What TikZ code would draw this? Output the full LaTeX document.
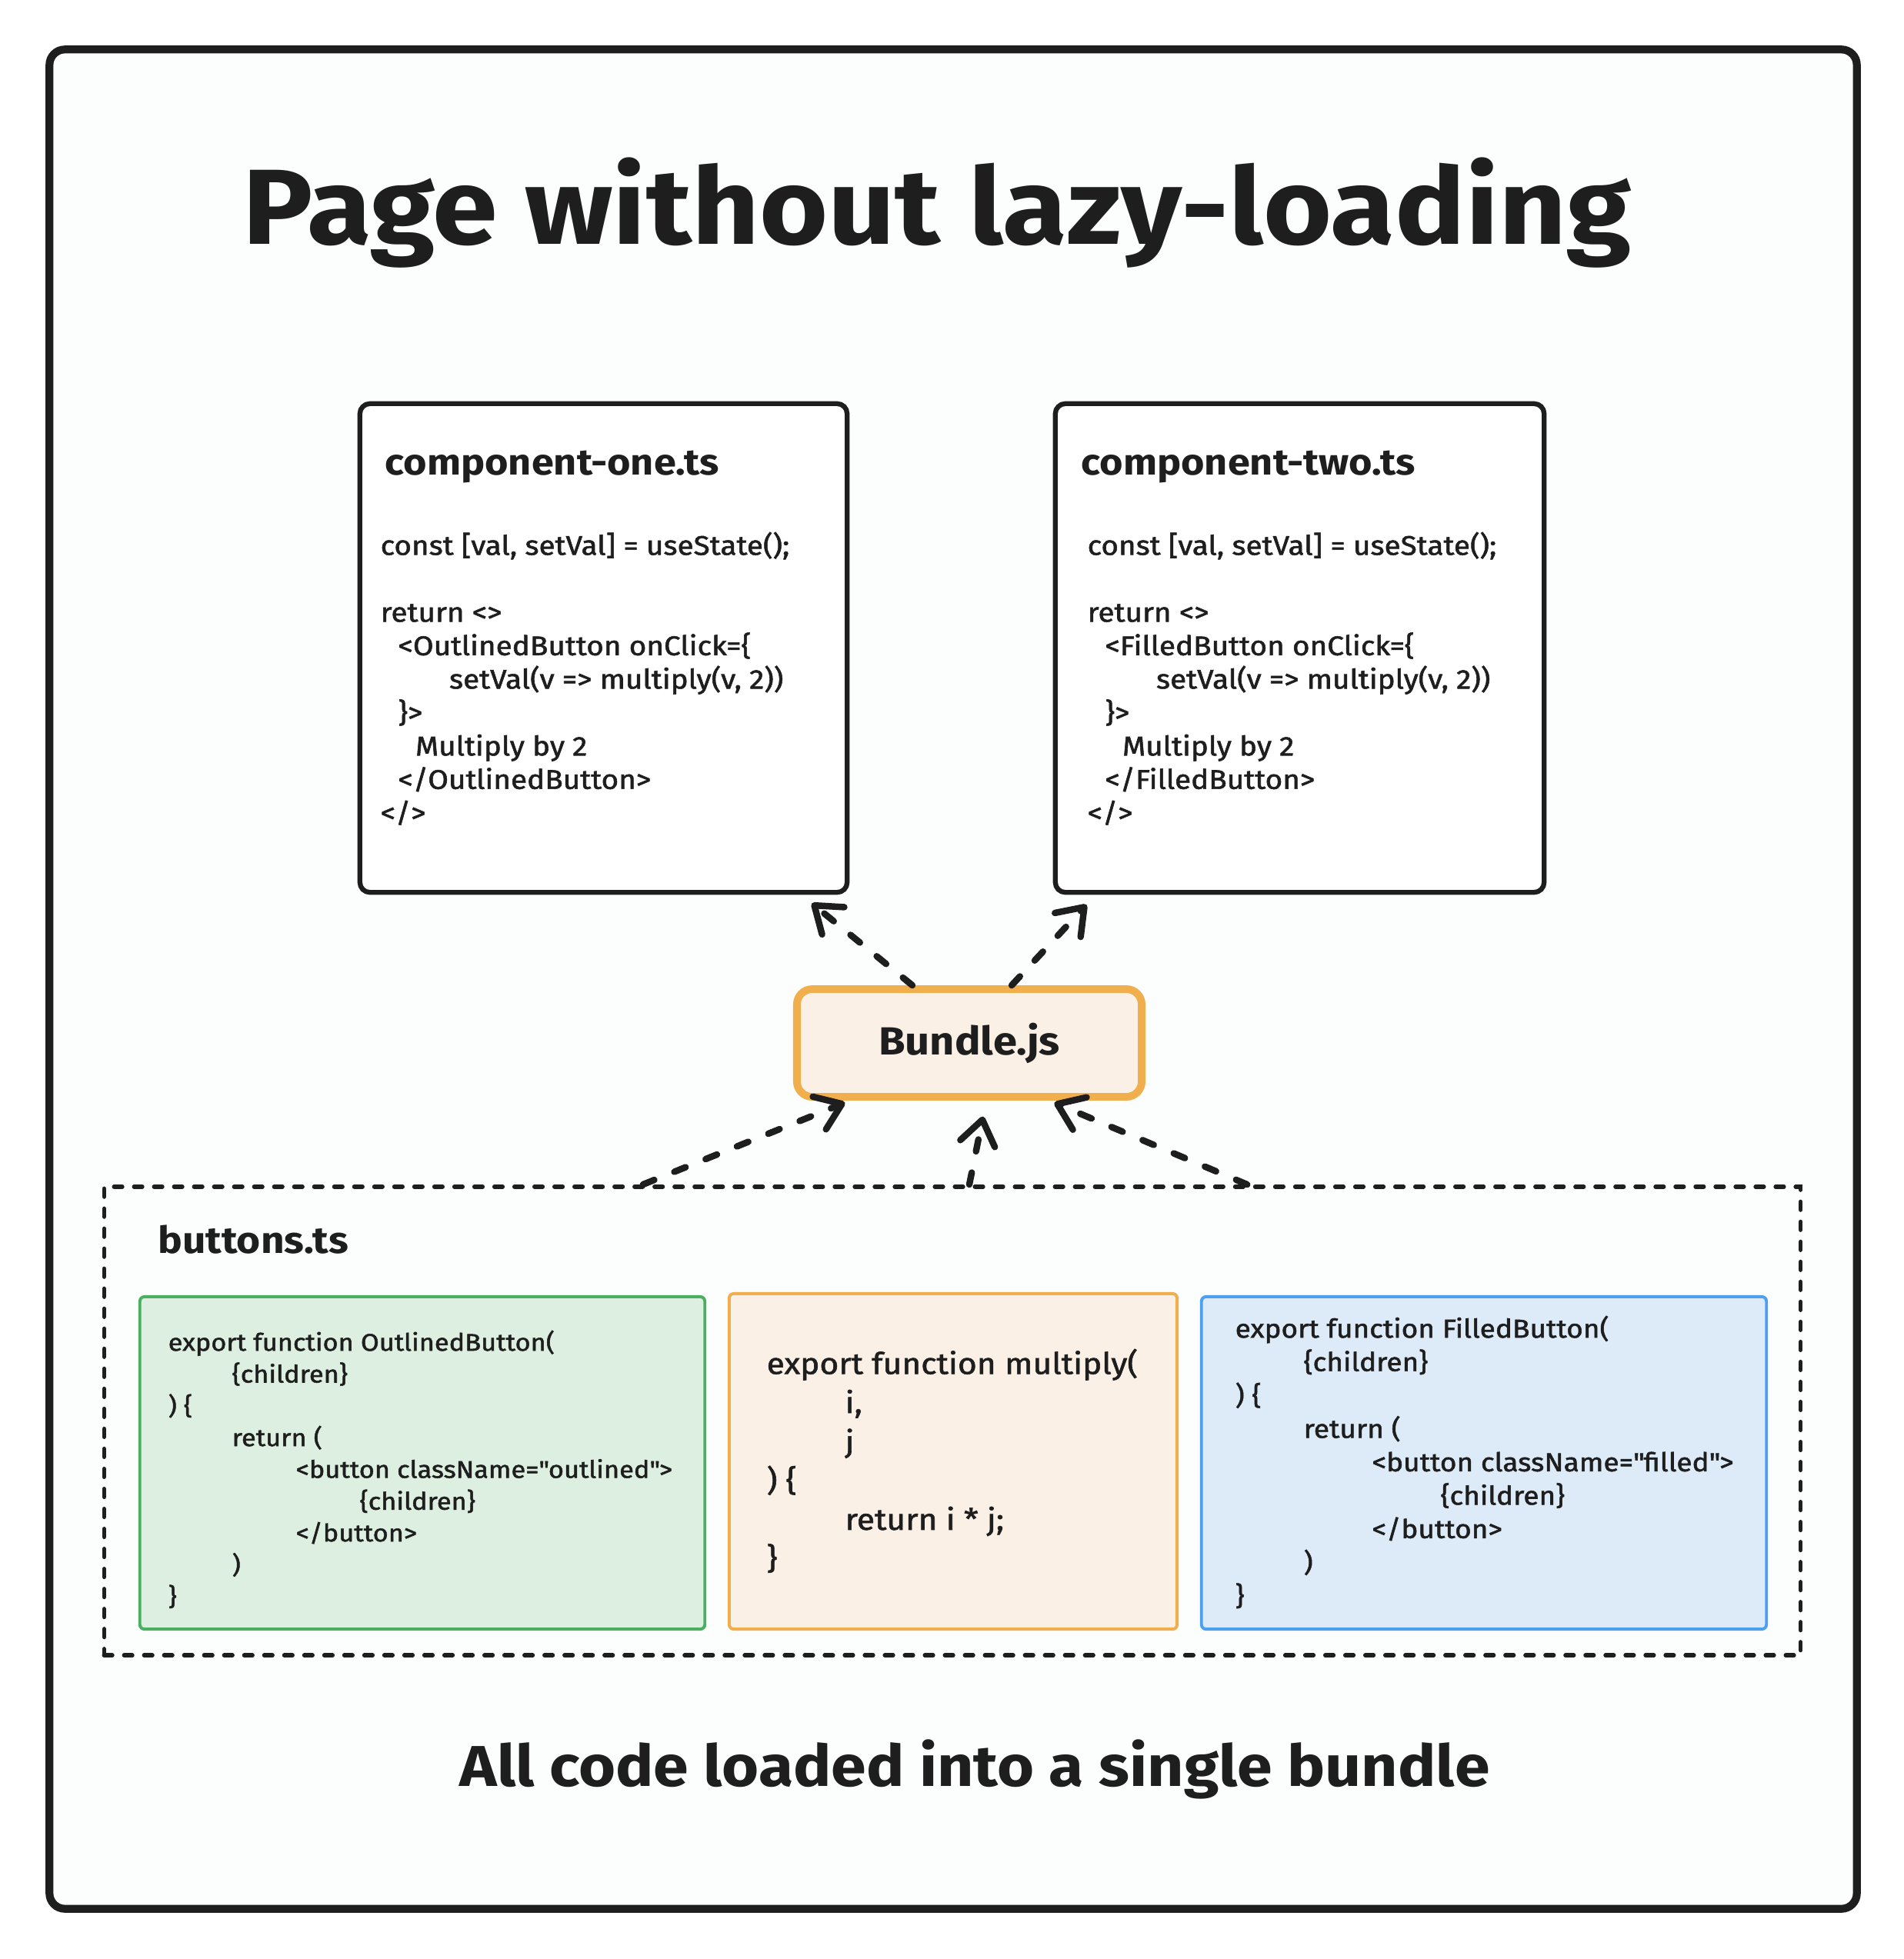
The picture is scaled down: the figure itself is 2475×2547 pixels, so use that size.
\documentclass[tikz,border=0pt]{standalone}
\usepackage{fontspec}
\setmainfont{Fira Sans}[FakeStretch=1.1]
\newfontfamily\codefont{Fira Sans}[FakeStretch=1.1, FakeBold=1.6]
\usetikzlibrary{arrows.meta}

\definecolor{ink}{HTML}{1E1E1E}
\definecolor{paper}{HTML}{FCFDFD}
\definecolor{bundleline}{HTML}{F0AE4C}
\definecolor{bundlefill}{HTML}{FAF0E6}
\definecolor{greenline}{HTML}{4CAF60}
\definecolor{greenfill}{HTML}{DDEFE0}
\definecolor{blueline}{HTML}{4DA0F0}
\definecolor{bluefill}{HTML}{DDEBF9}

\newcommand{\indentby}[1]{\hspace*{#1}}
\newcommand{\dq}{\textquotedbl}

\begin{document}
\begin{tikzpicture}[
    x=0.01cm, y=-0.01cm,
    frame/.style={draw=ink, fill=paper, line width=2.9pt, rounded corners=0.2cm},
    filebox/.style={draw=ink, fill=white, line width=1.8pt, rounded corners=0.13cm},
    bundlebox/.style={draw=bundleline, fill=bundlefill, line width=2.8pt, rounded corners=0.2cm,
        text=ink, font=\fontsize{14.5}{17}\selectfont\bfseries},
    groupbox/.style={draw=ink, line width=1.6pt, line cap=round, dash pattern=on 3pt off 4.4pt},
    codebox/.style={line width=1.1pt, rounded corners=0.06cm},
    heading/.style={anchor=base west, inner sep=0, text=ink, font=\fontsize{13.5}{16}\selectfont\bfseries},
    code/.style={anchor=north west, inner sep=0, align=left, text=ink},
    link/.style={draw=ink, line width=2.4pt, line cap=round, dash pattern=on 4.5pt off 8pt,
        -{Straight Barb[length=9pt, width=13pt, round]}}
]
    \fill[white] (0,0) rectangle (2475,2547);
    \useasboundingbox (0,0) rectangle (2475,2547);

    % Draw boxes
    \node[frame, minimum width=23.48cm, minimum height=24.16cm] (frame) at (1239,1273) {};
    \node[filebox, minimum width=6.33cm, minimum height=6.35cm] (one) at (784.5,842.5) {};
    \node[filebox, minimum width=6.35cm, minimum height=6.35cm] (two) at (1689.5,842.5) {};
    \node[bundlebox, minimum width=4.48cm, minimum height=1.40cm] (bundle) at (1260,1356) {Bundle.js};
    \node[groupbox, minimum width=22.04cm, minimum height=6.09cm] (buttons) at (1238,1847.5) {};
    \node[codebox, draw=greenline, fill=greenfill, minimum width=7.34cm, minimum height=4.32cm] (outlined) at (549,1902) {};
    \node[codebox, draw=bundleline, fill=bundlefill, minimum width=5.82cm, minimum height=4.36cm] (multiply) at (1239,1900) {};
    \node[codebox, draw=blueline, fill=bluefill, minimum width=7.34cm, minimum height=4.32cm] (filled) at (1929,1902) {};

    % Draw texts
    \node[anchor=base, inner sep=0, text=ink, font=\fontsize{39.5}{46}\selectfont\bfseries] (title) at (1218,317) {Page without lazy-loading};
    \node[anchor=base, inner sep=0, text=ink, font=\fontsize{21.3}{25}\selectfont\bfseries] (caption) at (1267,2322) {All code loaded into a single bundle};
    \node[heading] (onetitle) at (500,617) {component-one.ts};
    \node[heading] (twotitle) at (1405,617) {component-two.ts};
    \node[heading, font=\fontsize{13.75}{16}\selectfont\bfseries] (buttonstitle) at (205,1629) {buttons.ts};

    \node[code, font=\codefont\fontsize{10}{12.36}\selectfont] (onecode) at (494,691) {%
        const [val, setVal] = useState();\\
        \\
        return <>\\
        \indentby{6.5pt}<OutlinedButton onClick=\{\\
        \indentby{25.4pt}setVal(v => multiply(v, 2))\\
        \indentby{6.5pt}\}>\\
        \indentby{12.9pt}Multiply by 2\\
        \indentby{6.5pt}</OutlinedButton>\\
        </>};
    \node[code, font=\codefont\fontsize{10}{12.36}\selectfont] (twocode) at (1413,691) {%
        const [val, setVal] = useState();\\
        \\
        return <>\\
        \indentby{6.5pt}<FilledButton onClick=\{\\
        \indentby{25.4pt}setVal(v => multiply(v, 2))\\
        \indentby{6.5pt}\}>\\
        \indentby{12.9pt}Multiply by 2\\
        \indentby{6.5pt}</FilledButton>\\
        </>};

    \node[code, font=\codefont\fontsize{8.9}{11.75}\selectfont] (outlinedcode) at (218,1729) {%
        export function OutlinedButton(\\
        \indentby{23.6pt}\{children\}\\
        ) \{\\
        \indentby{23.6pt}return (\\
        \indentby{47.2pt}<button className=\dq outlined\dq>\\
        \indentby{70.8pt}\{children\}\\
        \indentby{47.2pt}</button>\\
        \indentby{23.6pt})\\
        \}};
    \node[code, font=\codefont\fontsize{11}{14.4}\selectfont] (multiplycode) at (996,1753) {%
        export function multiply(\\
        \indentby{29pt}i,\\
        \indentby{29pt}j\\
        ) \{\\
        \indentby{29pt}return i * j;\\
        \}};
    \node[code, font=\codefont\fontsize{9.57}{12.35}\selectfont] (filledcode) at (1605,1710) {%
        export function FilledButton(\\
        \indentby{25.3pt}\{children\}\\
        ) \{\\
        \indentby{25.3pt}return (\\
        \indentby{50.6pt}<button className=\dq filled\dq>\\
        \indentby{75.9pt}\{children\}\\
        \indentby{50.6pt}</button>\\
        \indentby{25.3pt})\\
        \}};

    % Draw connections
    \draw[link, shorten >=5pt] ([xshift=-0.74cm]bundle.north) -- ([xshift=2.57cm]one.south);
    \draw[link, shorten >=5pt] ([xshift=0.55cm]bundle.north) -- ([xshift=-2.65cm]two.south);
    \draw[link, shorten >=2pt] ([xshift=-4.02cm]buttons.north) -- ([xshift=-1.55cm]bundle.south);
    \draw[link, shorten >=6pt] ([xshift=0.22cm]buttons.north) -- ([xshift=0.22cm]bundle.south);
    \draw[link, shorten >=2pt] ([xshift=3.83cm]buttons.north) -- ([xshift=1.04cm]bundle.south);

\end{tikzpicture}
\end{document}
